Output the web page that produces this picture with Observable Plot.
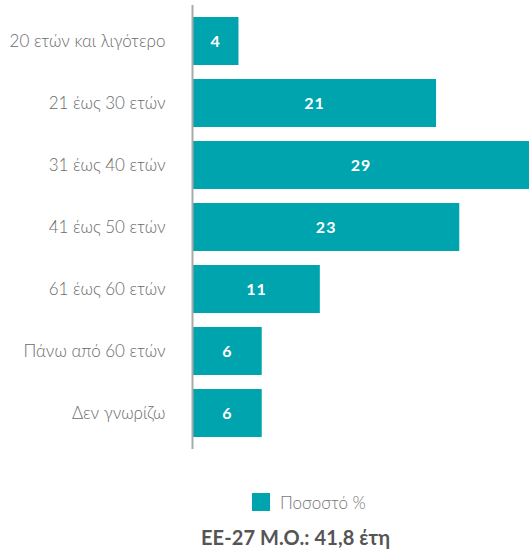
<!DOCTYPE html>
<html><head><meta charset="utf-8">
<script src="https://cdn.jsdelivr.net/npm/d3@7"></script>
<script src="https://cdn.jsdelivr.net/npm/@observablehq/plot@0.6"></script>
<style>
body{margin:0;background:#fff;font-family:Lato,"Noto Sans",sans-serif;}
#chart svg{display:block;}
#chart svg g[aria-label="text"] text{letter-spacing:1px;}
.legend{display:flex;align-items:center;margin-top:38px;padding-left:252px;height:18px;color:#777;font-size:17px;font-weight:300;}
.legend .sw{width:18px;height:18px;background:#00a4ae;margin-right:10px;}
.foot{margin-top:14px;padding-left:201px;font-weight:bold;font-size:20px;letter-spacing:0.1px;color:#555;line-height:24px;}
</style>
</head><body>
<div id="chart"></div>
<div class="legend"><div class="sw"></div><span id="lg"></span></div>
<div class="foot" id="ft"></div>
<script>
const categories = ["20 ετών και λιγότερο","21 έως 30 ετών","31 έως 40 ετών","41 έως 50 ετών","61 έως 60 ετών","Πάνω από 60 ετών","Δεν γνωρίζω"];
const values = [4,21,29,23,11,6,6];
const legendLabel = "Ποσοστό %";
const footnote = "ΕΕ-27 Μ.Ο.: 41,8 έτη";
const barColor = "#00a4ae";

const data = categories.map((c,i)=>({category:c, value:values[i]}));
const plot = Plot.plot({
  width:529, height:455,
  marginLeft:192, marginRight:0, marginTop:5, marginBottom:6,
  style:{fontFamily:'Lato,"Noto Sans",sans-serif', fontSize:"17px", color:"#6b6b6b", background:"#fff"},
  x:{domain:[0,29], axis:null},
  y:{domain:categories, paddingInner:0.227, paddingOuter:0.15, axis:null},
  marks:[
    Plot.barX(data,{x:"value", y:"category", fill:barColor}),
    Plot.text(data,{x:d=>d.value/2, y:"category", text:d=>String(d.value), fill:"white", fontSize:16, fontWeight:"bold"}),
    Plot.axisY({tickSize:0, tickPadding:27, fontSize:17, fontWeight:300, label:null}),
    Plot.ruleX([0],{stroke:"#aaa", strokeWidth:2})
  ]
});
document.getElementById("chart").append(plot);
document.getElementById("lg").textContent = legendLabel;
document.getElementById("ft").textContent = footnote;
</script>
</body></html>
